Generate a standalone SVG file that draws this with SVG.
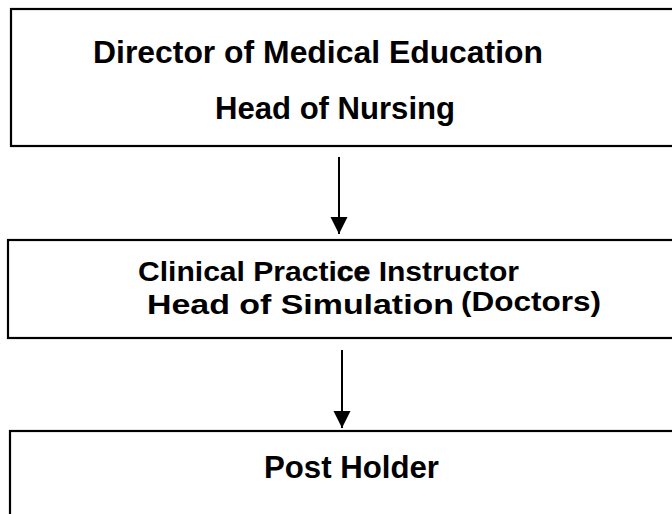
<svg xmlns="http://www.w3.org/2000/svg" width="672" height="514" viewBox="0 0 672 514">
  <style>
    .box { fill: #ffffff; stroke: #000000; stroke-width: 2.2; }
    .lbl { font-family: "Liberation Sans", Arial, sans-serif; font-weight: bold; font-size: 31px; fill: #000000; }
    .lbl-sm { font-family: "Liberation Sans", Arial, sans-serif; font-weight: bold; font-size: 28px; fill: #000000; }
    .edge { stroke: #000000; stroke-width: 2; fill: none; }
  </style>
  <defs>
    <marker id="arrowhead" markerWidth="18" markerHeight="18" refX="17" refY="9" orient="auto" markerUnits="userSpaceOnUse">
      <path d="M0,0.5 L17,9 L0,17.5 Z" fill="#000000"/>
    </marker>
  </defs>
  <rect width="672" height="514" fill="#ffffff"/>

  <g id="node-director">
    <rect class="box" x="11" y="9" width="680" height="137"/>
    <text class="lbl" x="93" y="63" textLength="450" lengthAdjust="spacingAndGlyphs">Director of Medical Education</text>
    <text class="lbl" x="215" y="119" textLength="240" lengthAdjust="spacingAndGlyphs">Head of Nursing</text>
  </g>

  <g id="node-instructor">
    <rect class="box" x="8" y="240" width="680" height="98"/>
    <text class="lbl-sm" x="138" y="281" textLength="381" lengthAdjust="spacingAndGlyphs">Clinical Practi<tspan stroke="#000000" stroke-width="0.6">ce</tspan> Instructor</text>
    <text class="lbl-sm" x="147" y="314" textLength="307" lengthAdjust="spacingAndGlyphs">Head of Simulation</text>
    <text class="lbl-sm" x="461" y="311" textLength="140" lengthAdjust="spacingAndGlyphs">(Doctors)</text>
  </g>

  <g id="node-postholder">
    <rect class="box" x="10" y="431" width="680" height="100"/>
    <text class="lbl" x="264" y="478" textLength="175" lengthAdjust="spacingAndGlyphs">Post Holder</text>
  </g>

  <g id="connectors">
    <line class="edge" x1="339" y1="157" x2="339" y2="234" marker-end="url(#arrowhead)"/>
    <line class="edge" x1="342" y1="350" x2="342" y2="428" marker-end="url(#arrowhead)"/>
  </g>
</svg>
